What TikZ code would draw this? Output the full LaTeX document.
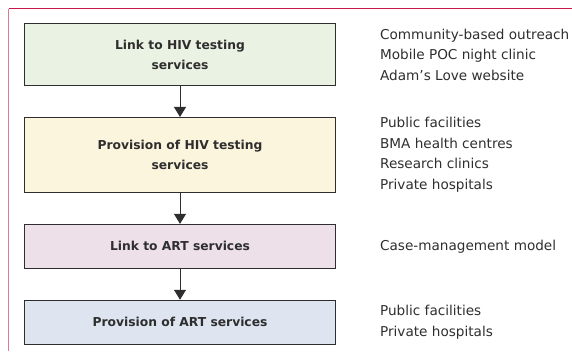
\documentclass[tikz,border=0pt]{standalone}
\usepackage{fontspec}
\setmainfont{DejaVu Sans}
\usetikzlibrary{positioning,arrows.meta}
\definecolor{framered}{HTML}{C8184A}
\definecolor{framepink}{HTML}{DC7A98}
\definecolor{fillgreen}{HTML}{EAF2E3}
\definecolor{fillyellow}{HTML}{FCF5DE}
\definecolor{fillpink}{HTML}{EDE0E9}
\definecolor{fillblue}{HTML}{DEE5F0}
\definecolor{inkgray}{HTML}{2E2E2E}
\tikzset{>={Triangle[width=12pt,length=10pt]}}
\tikzstyle{stage}=[rectangle,draw=inkgray,line width=0.9pt,minimum width=311pt,
  text=inkgray,align=center,font=\fontsize{12.3}{20}\selectfont\bfseries]
\tikzstyle{side}=[inner sep=0pt,align=left,anchor=west,text=inkgray,
  font=\fontsize{13.6}{20.5}\selectfont]

\begin{document}
\begin{tikzpicture}[x=1pt,y=-1pt,node distance=31pt]
  \useasboundingbox (0,0) rectangle (572,351);
  \draw[framered,line width=1pt] (8.5,8.5) -- (572,8.5) ;
  \draw[framepink,line width=1.2pt] (8.5,8.5) -- (8.5,351) ;

  \path (180,54.5) node (lnkhiv) [stage,fill=fillgreen,minimum height=62pt]
    {Link to HIV testing\\services};
  \node (provhiv) [stage,fill=fillyellow,minimum height=75pt,below=of lnkhiv]
    {Provision of HIV testing\\services};
  \node (lnkart) [stage,fill=fillpink,minimum height=44pt,below=of provhiv]
    {Link to ART services};
  \node (provart) [stage,fill=fillblue,minimum height=44pt,below=of lnkart]
    {Provision of ART services};

  \draw[->,inkgray,line width=0.9pt] (lnkhiv) -- (provhiv) ;
  \draw[->,inkgray,line width=0.9pt] (provhiv) -- (lnkart) ;
  \draw[->,inkgray,line width=0.9pt] (lnkart) -- (provart) ;

  \node (sidelnkhiv) [side,right=44pt of lnkhiv]
    {Community-based outreach\\Mobile POC night clinic\\Adam’s Love website};
  \node (sideprovhiv) [side,right=44pt of provhiv]
    {Public facilities\\BMA health centres\\Research clinics\\Private hospitals};
  \node (sidelnkart) [side,right=44pt of lnkart]
    {Case-management model};
  \node (sideprovart) [side,right=44pt of provart]
    {Public facilities\\Private hospitals};

\end{tikzpicture}
\end{document}
